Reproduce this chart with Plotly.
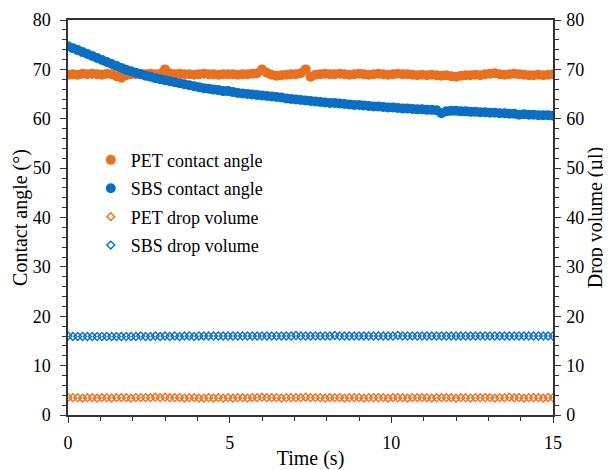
import plotly.graph_objects as go

# Time grid (s): sampling every 0.15 s from 0 to 15
time_s = [round(i * 0.15, 2) for i in range(101)]

pet_contact_angle = [
    68.9, 69.0, 68.9, 69.1, 69.0, 69.1, 69.0, 68.9, 69.1, 69.0,
    68.6, 68.3, 68.8, 69.0, 69.0, 69.1, 69.0, 69.1, 69.0, 69.1,
    70.0, 69.2, 69.0, 69.1, 69.0, 69.0, 68.9, 69.0, 69.1, 69.0,
    69.0, 68.9, 69.0, 69.0, 69.0, 68.9, 69.0, 69.0, 69.1, 69.2,
    70.0, 69.3, 68.9, 68.7, 68.8, 68.9, 69.0, 69.0, 69.2, 70.0,
    68.5, 68.9, 69.0, 69.1, 69.0, 69.0, 69.1, 69.0, 68.9, 69.0,
    69.1, 69.0, 68.9, 69.0, 69.1, 69.0, 68.9, 69.0, 69.1, 69.0,
    69.0, 68.9, 68.8, 68.9, 68.8, 68.9, 68.8, 68.7, 68.8, 68.6,
    68.5, 68.7, 68.8, 68.8, 68.9, 68.8, 69.0, 69.1, 69.2, 69.0,
    68.9, 69.0, 69.1, 69.0, 68.9, 68.8, 68.8, 68.9, 68.8, 68.9,
    69.0,
]

sbs_contact_angle = [
    74.7, 74.3, 73.9, 73.5, 73.1, 72.7, 72.3, 71.9, 71.5, 71.1,
    70.7, 70.3, 69.9, 69.6, 69.3, 69.0, 68.7, 68.5, 68.2, 68.0,
    67.8, 67.6, 67.4, 67.2, 67.0, 66.8, 66.6, 66.4, 66.2, 66.1,
    65.9, 65.8, 65.6, 65.6, 65.4, 65.2, 65.1, 65.0, 64.9, 64.8,
    64.7, 64.6, 64.5, 64.4, 64.3, 64.1, 64.0, 63.9, 63.8, 63.7,
    63.6, 63.5, 63.4, 63.3, 63.2, 63.2, 63.1, 63.0, 62.9, 62.8,
    62.8, 62.7, 62.6, 62.5, 62.5, 62.4, 62.3, 62.3, 62.2, 62.1,
    62.1, 62.0, 61.9, 61.9, 61.8, 61.8, 61.7, 61.1, 61.5, 61.6,
    61.6, 61.5, 61.5, 61.4, 61.4, 61.3, 61.3, 61.2, 61.2, 61.1,
    61.1, 61.0, 61.0, 60.8, 60.9, 60.8, 60.8, 60.7, 60.7, 60.7,
    60.6,
]

pet_drop_volume = [
    3.5, 3.5, 3.5, 3.4, 3.5, 3.5, 3.4, 3.5, 3.5, 3.4,
    3.5, 3.5, 3.5, 3.4, 3.5, 3.5, 3.5, 3.5, 3.6, 3.5,
    3.6, 3.5, 3.5, 3.5, 3.4, 3.5, 3.5, 3.4, 3.4, 3.5,
    3.4, 3.5, 3.4, 3.5, 3.4, 3.5, 3.5, 3.4, 3.5, 3.5,
    3.6, 3.5, 3.5, 3.5, 3.4, 3.5, 3.5, 3.5, 3.5, 3.6,
    3.5, 3.5, 3.5, 3.4, 3.5, 3.5, 3.5, 3.4, 3.5, 3.5,
    3.5, 3.4, 3.5, 3.5, 3.5, 3.5, 3.4, 3.5, 3.5, 3.5,
    3.4, 3.5, 3.5, 3.5, 3.5, 3.4, 3.5, 3.5, 3.5, 3.5,
    3.4, 3.5, 3.5, 3.4, 3.5, 3.5, 3.5, 3.5, 3.4, 3.5,
    3.5, 3.6, 3.5, 3.5, 3.4, 3.5, 3.5, 3.5, 3.4, 3.5,
    3.5,
]

sbs_drop_volume = [
    16.0, 15.9, 15.9, 15.9, 15.9, 15.9, 15.9, 15.9, 15.9, 15.9,
    15.9, 15.9, 15.9, 15.9, 15.9, 16.0, 15.9, 15.9, 16.0, 15.9,
    16.0, 15.9, 16.0, 15.9, 16.0, 16.0, 15.9, 16.0, 16.0, 16.0,
    16.0, 16.0, 16.0, 16.0, 16.0, 16.0, 16.0, 16.0, 16.0, 16.0,
    16.0, 16.0, 16.0, 16.0, 16.0, 16.0, 16.0, 16.1, 16.0, 16.0,
    16.0, 16.0, 16.0, 16.0, 16.0, 16.1, 16.0, 16.0, 16.0, 16.0,
    16.0, 16.0, 16.0, 16.0, 16.0, 16.0, 16.0, 16.0, 16.1, 16.0,
    16.0, 16.0, 16.0, 16.0, 16.0, 16.0, 16.0, 16.0, 16.0, 16.0,
    16.0, 16.0, 16.0, 16.0, 16.0, 16.0, 16.0, 16.0, 16.0, 16.0,
    16.0, 16.0, 16.0, 16.0, 16.0, 16.0, 16.0, 16.0, 16.0, 16.0,
    16.0,
]

ORANGE = "#E8701E"
BLUE = "#0A6FC4"
FONT = "Liberation Serif"
AXIS_COLOR = "#333333"

fig = go.Figure()
fig.add_trace(go.Scatter(
    x=time_s, y=pet_contact_angle, mode="markers", name="PET contact angle",
    legendgroup="a",
    marker=dict(symbol="circle", size=10, color=ORANGE, line=dict(width=0)),
))
fig.add_trace(go.Scatter(
    x=time_s, y=sbs_contact_angle, mode="markers", name="SBS contact angle",
    legendgroup="b",
    marker=dict(symbol="circle", size=10, color=BLUE, line=dict(width=0)),
))
fig.add_trace(go.Scatter(
    x=time_s, y=pet_drop_volume, mode="markers", name="PET drop volume",
    legendgroup="c", yaxis="y2",
    marker=dict(symbol="diamond-open", size=6, color=ORANGE, line=dict(width=1.4, color=ORANGE)),
))
fig.add_trace(go.Scatter(
    x=time_s, y=sbs_drop_volume, mode="markers", name="SBS drop volume",
    legendgroup="d", yaxis="y2",
    marker=dict(symbol="diamond-open", size=6, color=BLUE, line=dict(width=1.4, color=BLUE)),
))

tickfont = dict(family=FONT, size=18, color="black")
titlefont = dict(family=FONT, size=20, color="black")

fig.update_layout(
    width=603, height=462,
    margin=dict(l=60, r=58, t=12, b=55),
    paper_bgcolor="white", plot_bgcolor="white",
    font=dict(family=FONT, color="black"),
    showlegend=True,
    legend=dict(
        x=0.047, y=0.692, xanchor="left", yanchor="top",
        font=dict(family=FONT, size=18, color="black"),
        bgcolor="rgba(0,0,0,0)", traceorder="grouped", tracegroupgap=2,
    ),
    xaxis=dict(
        range=[0, 15], dtick=5, tick0=0, showgrid=False, zeroline=False,
        automargin=False,
        showline=True, linecolor=AXIS_COLOR, linewidth=1.5, mirror=True,
        ticks="outside", ticklen=6, tickwidth=1.3, tickcolor=AXIS_COLOR,
        minor=dict(dtick=1, ticks="outside", ticklen=4, tickwidth=1.2, tickcolor=AXIS_COLOR, showgrid=False),
        tickfont=tickfont, ticklabelstandoff=5,
        title=dict(text="Time (s)", font=titlefont, standoff=4),
    ),
    yaxis=dict(
        range=[0, 80], dtick=10, tick0=0, showgrid=False, zeroline=False,
        automargin=False,
        showline=True, linecolor=AXIS_COLOR, linewidth=1.5,
        ticks="outside", ticklen=6, tickwidth=1.3, tickcolor=AXIS_COLOR,
        minor=dict(dtick=2, ticks="outside", ticklen=4, tickwidth=1.2, tickcolor=AXIS_COLOR, showgrid=False),
        tickfont=tickfont, ticklabelstandoff=6,
        title=dict(text="Contact angle (°)", font=titlefont, standoff=0),
    ),
    yaxis2=dict(
        range=[0, 80], dtick=10, tick0=0, showgrid=False, zeroline=False,
        automargin=False,
        overlaying="y", side="right",
        showline=True, linecolor=AXIS_COLOR, linewidth=1.5,
        ticks="outside", ticklen=6, tickwidth=1.3, tickcolor=AXIS_COLOR,
        minor=dict(dtick=2, ticks="outside", ticklen=4, tickwidth=1.2, tickcolor=AXIS_COLOR, showgrid=False),
        tickfont=tickfont, ticklabelstandoff=2,
        title=dict(text="Drop volume (µl)", font=titlefont, standoff=0),
    ),
)

fig.write_html("out.html")
